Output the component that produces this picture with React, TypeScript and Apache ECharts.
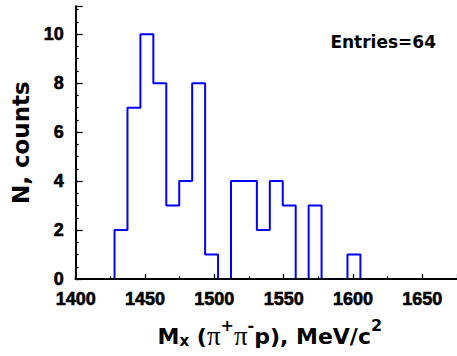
import React, { useEffect, useRef } from "react";
import * as echarts from "echarts";

// Histogram definition: 30 bins spanning 1400–1680 MeV/c^2
const histRange = [1400, 1680];
const counts = [0, 0, 0, 2, 7, 10, 8, 3, 4, 8, 1, 0, 4, 4, 2, 4, 3, 0, 3, 0, 0, 1, 0, 0, 0, 0, 0, 0, 0, 0];

// Axis ranges and tick spacing
const xRange = [1400, 1675];
const xMajor = 50;
const xMinor = 25;
const yRange = [0, 11.14];
const yMajor = 2;
const yMinor = 0.5;

const yTitle = "N, counts";

export default function App() {
  const ref = useRef<HTMLDivElement>(null);

  useEffect(() => {
    if (!ref.current) return;
    const chart = echarts.init(ref.current, undefined, { renderer: "svg" });

    const n = counts.length;
    const w = (histRange[1] - histRange[0]) / n;
    const stepData: number[][] = counts.map((c, i) => [histRange[0] + i * w, c]);
    stepData.push([histRange[1], counts[n - 1]]);
    const entries = counts.reduce((a, b) => a + b, 0);

    const tickFont = {
      fontFamily: "Liberation Sans",
      fontWeight: "bold" as const,
      fontSize: 18,
      color: "#000",
      textBorderColor: "#000",
      textBorderWidth: 0.6,
    };

    chart.setOption({
      animation: false,
      backgroundColor: "#fff",
      grid: { left: 75.7, right: 0, top: 6.3, bottom: 75.7 },
      xAxis: [
        {
          type: "value",
          min: xRange[0],
          max: xRange[1],
          interval: xMinor,
          position: "bottom",
          z: 10,
          axisLine: { show: true, onZero: false, lineStyle: { color: "#000", width: 2 } },
          axisTick: { show: true, inside: true, length: 2.5, lineStyle: { color: "#000", width: 1.2 } },
          axisLabel: {
            ...tickFont,
            margin: 11,
            showMaxLabel: false,
            formatter: (v: number) => (v % xMajor === 0 ? String(v) : ""),
          },
          splitLine: { show: false },
          name: "{b|M}{sub|x}{b| (}{g|π}{sup|+}{g|π}{sup|-}{b|p), MeV/c}{sup|2}",
          nameLocation: "middle",
          nameGap: 42,
          nameTextStyle: {
            padding: [0, 0, 0, 7],
            rich: {
              b: { fontFamily: "DejaVu Sans", fontWeight: "bold", fontSize: 22, color: "#000", height: 30, lineHeight: 30 },
              sub: { fontFamily: "DejaVu Sans", fontWeight: "bold", fontSize: 15, color: "#000", height: 20, lineHeight: 20, verticalAlign: "bottom" },
              sup: { fontFamily: "DejaVu Sans", fontWeight: "bold", fontSize: 16, color: "#000", height: 8, lineHeight: 8, verticalAlign: "top" },
              g: { fontFamily: "Liberation Serif", fontWeight: "normal", fontSize: 27, color: "#000", height: 30, lineHeight: 30 },
            },
          },
        },
        {
          type: "value",
          min: xRange[0],
          max: xRange[1],
          interval: xMajor,
          position: "bottom",
          z: 10,
          axisLine: { show: false },
          axisTick: { show: true, inside: true, length: 5, lineStyle: { color: "#000", width: 1.2 } },
          axisLabel: { show: false },
          splitLine: { show: false },
        },
        {
          type: "value",
          min: xRange[0],
          max: xRange[1],
          position: "top",
          z: 10,
          axisLine: { show: true, lineStyle: { color: "#000", width: 2 } },
          axisTick: { show: false },
          axisLabel: { show: false },
          splitLine: { show: false },
        },
      ],
      yAxis: [
        {
          type: "value",
          min: yRange[0],
          max: yRange[1],
          interval: yMinor,
          position: "left",
          z: 10,
          axisLine: { show: true, onZero: false, lineStyle: { color: "#000", width: 2 } },
          axisTick: { show: true, inside: true, length: 3, lineStyle: { color: "#000", width: 1.2 } },
          axisLabel: {
            ...tickFont,
            margin: 12,
            showMaxLabel: false,
            formatter: (v: number) => (Math.abs(v % yMajor) < 1e-9 ? String(v) : ""),
          },
          splitLine: { show: false },
          name: yTitle,
          nameLocation: "middle",
          nameGap: 41,
          nameTextStyle: { fontFamily: "DejaVu Sans", fontWeight: "bold", fontSize: 23, color: "#000" },
        },
        {
          type: "value",
          min: yRange[0],
          max: yRange[1],
          interval: yMajor,
          position: "left",
          z: 10,
          axisLine: { show: false },
          axisTick: { show: true, inside: true, length: 7, lineStyle: { color: "#000", width: 1.2 } },
          axisLabel: { show: false },
          splitLine: { show: false },
        },
      ],
      graphic: [
        {
          type: "text",
          right: 21,
          top: 33,
          style: {
            text: `Entries=${entries}`,
            fontFamily: "DejaVu Sans",
            fontWeight: "bold",
            fontSize: 17,
            fill: "#000",
          },
        },
      ],
      series: [
        {
          type: "line",
          xAxisIndex: 0,
          yAxisIndex: 0,
          step: "end",
          data: stepData,
          symbol: "none",
          lineStyle: { color: "#0000ff", width: 2 },
          z: 2,
        },
      ],
    });

    return () => chart.dispose();
  }, []);

  return (
    <div
      ref={ref}
      style={{ position: "absolute", left: 0, top: 0, width: 457, height: 356 }}
    />
  );
}
